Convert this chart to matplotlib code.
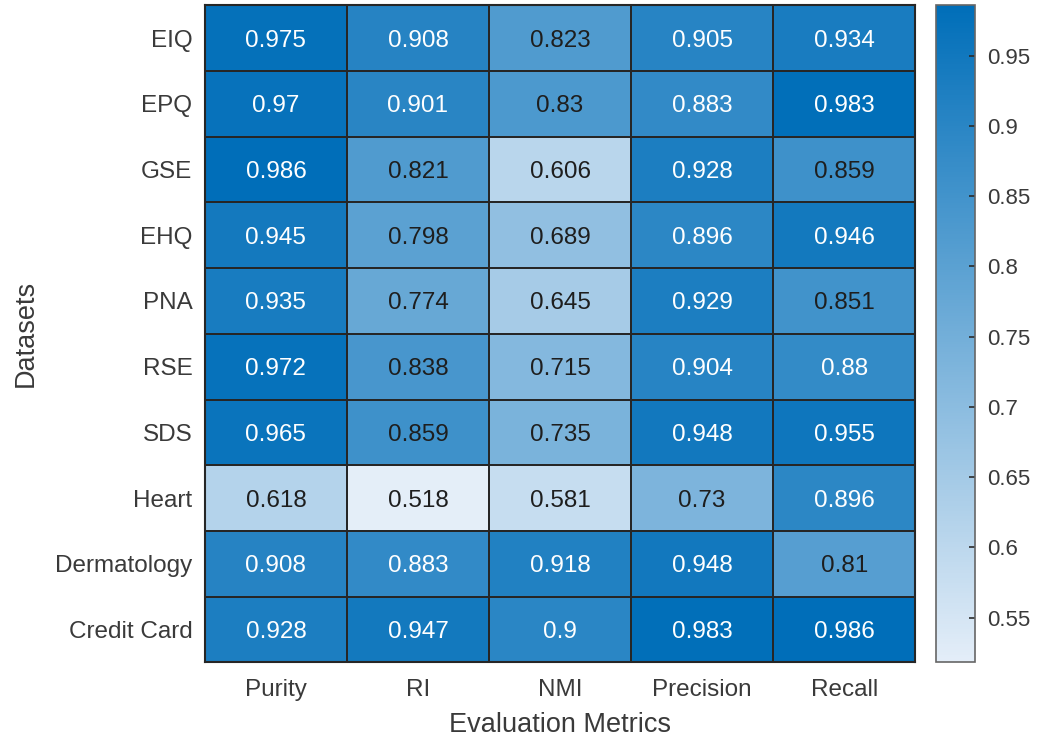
import matplotlib
matplotlib.use('Agg')
import matplotlib.pyplot as plt
from matplotlib.colors import LinearSegmentedColormap
import numpy as np

datasets = ['EIQ', 'EPQ', 'GSE', 'EHQ', 'PNA', 'RSE', 'SDS', 'Heart', 'Dermatology', 'Credit Card']
metrics = ['Purity', 'RI', 'NMI', 'Precision', 'Recall']

purity = [0.975, 0.97, 0.986, 0.945, 0.935, 0.972, 0.965, 0.618, 0.908, 0.928]
ri = [0.908, 0.901, 0.821, 0.798, 0.774, 0.838, 0.859, 0.518, 0.883, 0.947]
nmi = [0.823, 0.83, 0.606, 0.689, 0.645, 0.715, 0.735, 0.581, 0.918, 0.9]
precision = [0.905, 0.883, 0.928, 0.896, 0.929, 0.904, 0.948, 0.73, 0.948, 0.983]
recall = [0.934, 0.983, 0.859, 0.946, 0.851, 0.88, 0.955, 0.896, 0.81, 0.986]

cbar_ticks = [0.55, 0.6, 0.65, 0.7, 0.75, 0.8, 0.85, 0.9, 0.95]

plt.rcParams['font.family'] = ['Liberation Sans', 'DejaVu Sans']
txt_col = '#3a3a3a'

vals = np.array([purity, ri, nmi, precision, recall]).T
vmin, vmax = vals.min(), vals.max()
cmap = LinearSegmentedColormap.from_list('mblue', ['#e4eef8', '#006eb9'])

fig = plt.figure(figsize=(10.4, 7.41), dpi=100)
ax = fig.add_axes([0.197, 0.106, 0.683, 0.887])
mesh = ax.pcolormesh(vals, cmap=cmap, vmin=vmin, vmax=vmax,
                     edgecolors='#262626', linewidth=1.2)
ax.set_xlim(0, len(metrics))
ax.set_ylim(len(datasets), 0)
for i in range(len(datasets)):
    for j in range(len(metrics)):
        v = vals[i, j]
        c = 'white' if v > 0.87 else '#1e1e1e'
        ax.text(j + 0.5, i + 0.5, f'{v:g}', ha='center', va='center_baseline',
                fontsize=17.5, color=c)

ax.set_xticks(np.arange(len(metrics)) + 0.5)
ax.set_xticklabels(metrics, fontsize=17.5, color=txt_col)
ax.set_yticks(np.arange(len(datasets)) + 0.5)
ax.set_yticklabels(datasets, fontsize=17.5, color=txt_col)
ax.tick_params(axis='x', length=0, pad=12)
ax.tick_params(axis='y', length=0, pad=9)
for s in ax.spines.values():
    s.set_color('#262626')
    s.set_linewidth(1.5)
ax.set_xlabel('Evaluation Metrics', fontsize=19.5, color=txt_col, labelpad=8)
ax.set_ylabel('Datasets', fontsize=19.5, color=txt_col, labelpad=12)

cax = fig.add_axes([0.900, 0.106, 0.0375, 0.887])
cb = fig.colorbar(mesh, cax=cax, ticks=cbar_ticks)
cb.ax.set_yticklabels([f'{t:g}' for t in cbar_ticks], fontsize=16, color=txt_col)
cb.ax.tick_params(direction='in', length=4, width=1.2, color='#2b2b2b', pad=9)
cb.outline.set_edgecolor('#666666')
cb.outline.set_linewidth(1.2)

fig.savefig('out.png', dpi=100)
